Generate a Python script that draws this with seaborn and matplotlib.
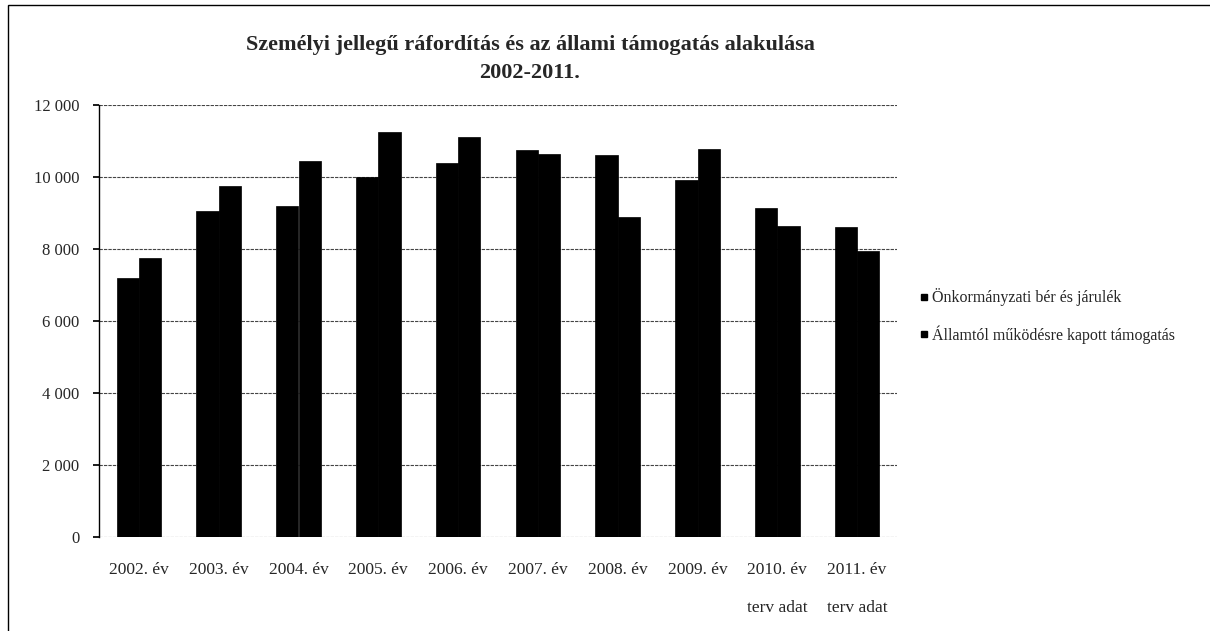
import matplotlib
matplotlib.use("Agg")
import matplotlib.pyplot as plt
import seaborn as sns
import pandas as pd
from matplotlib.patches import Rectangle
from matplotlib.lines import Line2D

years = ["2002. év", "2003. év", "2004. év", "2005. év", "2006. év",
         "2007. év", "2008. év", "2009. év", "2010. év", "2011. év"]
onkormanyzati = [7200, 9050, 9200, 10000, 10400, 10750, 10600, 9920, 9130, 8600]
allami = [7750, 9750, 10450, 11250, 11100, 10630, 8900, 10780, 8640, 7940]
series_names = ["Önkormányzati bér és járulék", "Államtól működésre kapott támogatás"]
yticks = [0, 2000, 4000, 6000, 8000, 10000, 12000]
ytick_labels = ["0", "2 000", "4 000", "6 000", "8 000", "10 000", "12 000"]
title = "Személyi jellegű ráfordítás és az állami támogatás alakulása\n2002-2011."
terv_idx = [8, 9]
terv_label = "terv adat"

df = pd.DataFrame({
    "year": years * 2,
    "value": onkormanyzati + allami,
    "series": [series_names[0]] * len(years) + [series_names[1]] * len(years),
})

sns.set_theme(style="white")
plt.rcParams["font.family"] = ["Liberation Serif", "DejaVu Serif"]

fig = plt.figure(figsize=(12.1, 6.31), dpi=100)
ax = fig.add_axes([99 / 1210, 94 / 631, (897 - 99) / 1210, (537 - 105) / 631])

sns.barplot(data=df, x="year", y="value", hue="series",
            palette=["black", "black"], width=0.56, gap=0, ax=ax,
            saturation=1, legend=False, edgecolor="black", linewidth=0.5)

ax.set_ylim(0, 12000)
ax.set_xlim(-0.5, len(years) - 0.5)
ax.set_yticks(yticks)
ax.set_yticklabels(ytick_labels, fontsize=12)
ax.set_xticks(range(len(years)))
ax.set_xticklabels(years, fontsize=12.5)
ax.set_xlabel("")
ax.set_ylabel("")
ax.yaxis.grid(True, color="#444444", linestyle=(0, (3, 1)), linewidth=0.8)
ax.set_axisbelow(True)
for s in ["top", "right", "bottom"]:
    ax.spines[s].set_visible(False)
ax.spines["left"].set_color("black")
ax.spines["left"].set_linewidth(1.0)
ax.tick_params(axis="y", which="both", left=True, length=4, color="black", pad=10)
ax.tick_params(axis="x", length=0, pad=18)

for i in terv_idx:
    ax.text(i, -0.164, terv_label, transform=ax.get_xaxis_transform(),
            ha="center", va="center", fontsize=12.5)

fig.text(530 / 1210, 1 - 59 / 631, title, ha="center", va="center",
         fontsize=16, fontweight="bold", linespacing=1.55)

handles = [Line2D([], [], marker="s", color="black", linestyle="", markersize=5)
           for _ in series_names]
fig.legend(handles, series_names, loc="center left",
           bbox_to_anchor=(903 / 1210, 1 - 316 / 631), frameon=False,
           fontsize=11.5, handletextpad=0.1, labelspacing=1.2, handlelength=0.8)

fig.patches.append(Rectangle((8 / 1210, -0.01), 1.02, 1 - 5 / 631 + 0.01,
                             transform=fig.transFigure, fill=False,
                             edgecolor="black", linewidth=1.0))

fig.savefig("out.png", dpi=100)
